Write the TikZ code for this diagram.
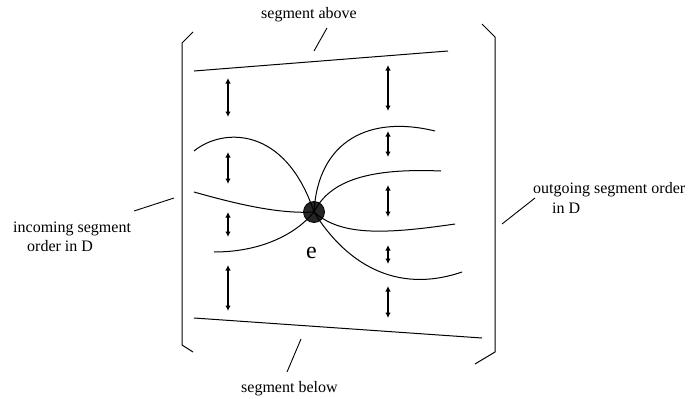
\documentclass[tikz,border=0pt]{standalone}
\usepackage{fontspec}
\setmainfont{Liberation Serif}
\usetikzlibrary{arrows.meta}
\begin{document}
\begin{tikzpicture}[x=1pt,y=-1pt,
  seg/.style={line width=1pt},
  lbl/.style={anchor=base west,inner sep=0pt,font=\fontsize{16}{19}\selectfont},
  gap/.style={line width=1.1pt,{Latex[length=5.5pt,width=5.5pt]}-{Latex[length=5.5pt,width=5.5pt]}},
  ptr/.style={line width=0.9pt}]
\useasboundingbox (0,0) rectangle (694,399);
% brackets
\draw[seg] (193,32) -- (182,43) -- (182,345) -- (193,352);
\draw[seg] (482,24) -- (495,37) -- (495,352) -- (475,364);
% outer segments
\draw[seg] (194,71) -- (448,51);
\draw[seg] (194,318) -- (482,338);
% vertex e
\node[circle,draw=black,fill=black!85,minimum size=21pt,inner sep=0pt,line width=0.8pt] (e) at (314,212) {};
\node[lbl,font=\fontsize{24}{28}\selectfont] (elabel) at (306,258) {e};
% incoming segments
\draw[seg] (194,151) .. controls (222,128) and (285,125) .. (e.center);
\draw[seg] (194,192) .. controls (240,205) and (280,214) .. (e.center);
\draw[seg] (214,252) .. controls (260,252) and (295,235) .. (e.center);
% outgoing segments
\draw[seg] (e.center) .. controls (318,140) and (370,115) .. (435,131);
\draw[seg] (e.center) .. controls (330,180) and (370,168) .. (441,171);
\draw[seg] (e.center) .. controls (340,235) and (380,235) .. (455,224);
\draw[seg] (e.center) .. controls (345,262) and (395,295) .. (462,272);
% gap arrows left
\draw[gap] (228,78) -- (228,117);
\draw[gap] (228,152) -- (228,184);
\draw[gap] (228,212) -- (228,237);
\draw[gap] (228,265) -- (228,311);
% gap arrows right
\draw[gap] (388,65) -- (388,111);
\draw[gap] (388,131) -- (388,157);
\draw[gap] (388,185) -- (388,217);
\draw[gap] (388,245) -- (388,264);
\draw[gap] (388,286) -- (388,318);
% labels
\node[lbl] (above) at (261,18) {segment above};
\node[lbl] (below) at (241,392) {segment below};
\node[lbl] (in1) at (13,232) {incoming segment};
\node[lbl] (in2) at (27,251) {order in D};
\node[lbl] (out1) at (533,193) {outgoing segment order};
\node[lbl] (out2) at (552,213) {in D};
% pointer lines
\coordinate (pa1) at (327,28); \coordinate (pa2) at (314,51);
\coordinate (pb1) at (301,339); \coordinate (pb2) at (287,372);
\coordinate (pi1) at (134,211); \coordinate (pi2) at (174,198);
\coordinate (po1) at (535,198); \coordinate (po2) at (502,224);
\draw[ptr] (pa1) -- (pa2);
\draw[ptr] (pb1) -- (pb2);
\draw[ptr] (pi1) -- (pi2);
\draw[ptr] (po1) -- (po2);
\end{tikzpicture}
\end{document}
